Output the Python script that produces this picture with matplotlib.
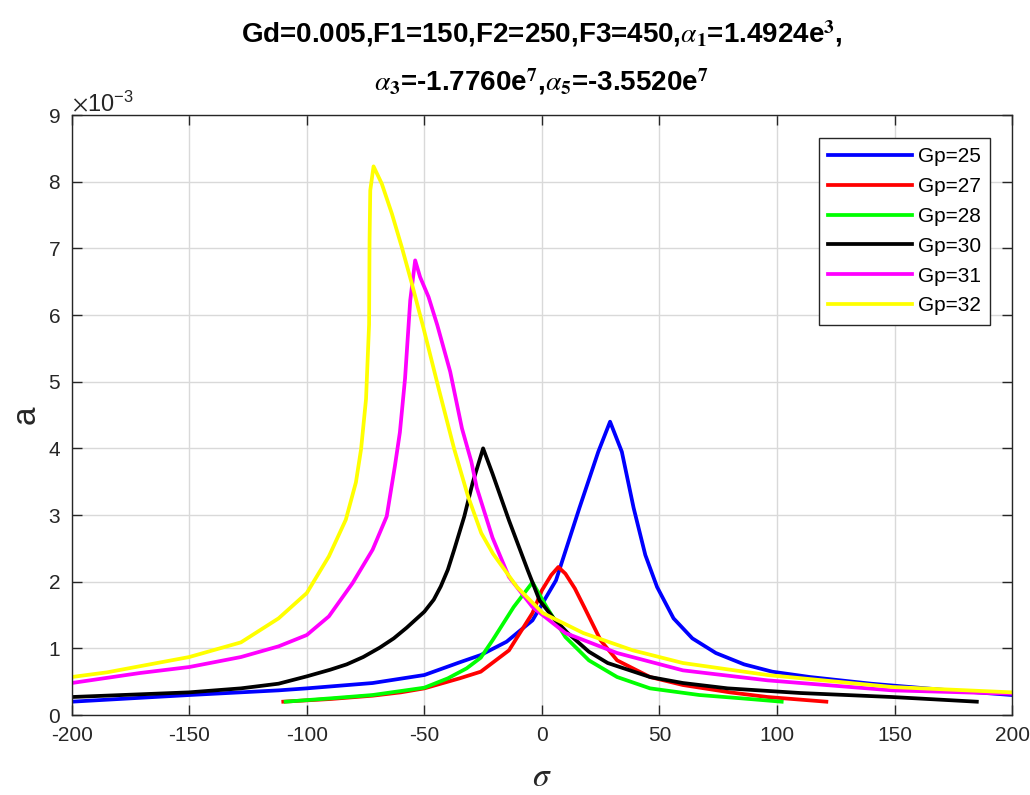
import matplotlib
matplotlib.use('Agg')
import matplotlib.pyplot as plt
import matplotlib.ticker as mticker

plt.rcParams['font.family'] = ['Liberation Sans', 'DejaVu Sans']
plt.rcParams['mathtext.fontset'] = 'stix'
plt.rcParams['axes.unicode_minus'] = False

# ── data (a in units of 1e-3) ─────────────────────────────────────
sig_25 = [-200, -150, -112, -100, -72, -50, -35, -26, -15, -4, 6, 16, 24, 29, 34, 39, 44, 49, 56, 64, 74, 86, 98, 114, 140, 170, 200]
a_25 = [0.20, 0.30, 0.37, 0.40, 0.48, 0.60, 0.79, 0.90, 1.10, 1.42, 2.02, 3.11, 3.95, 4.40, 3.95, 3.11, 2.40, 1.92, 1.45, 1.15, 0.93, 0.76, 0.65, 0.57, 0.47, 0.38, 0.30]

sig_27 = [-110, -90, -72, -60, -50, -35, -26, -14, -4, 0, 4, 7, 10, 14, 18, 25, 32, 46, 60, 80, 96, 121]
a_27 = [0.20, 0.24, 0.29, 0.34, 0.40, 0.55, 0.65, 0.97, 1.53, 1.87, 2.10, 2.22, 2.12, 1.90, 1.62, 1.12, 0.82, 0.57, 0.45, 0.34, 0.27, 0.20]

sig_28 = [-109, -90, -72, -60, -50, -40, -32, -26, -21, -12, -4, 2, 10, 20, 32, 46, 67, 85, 102]
a_28 = [0.20, 0.25, 0.30, 0.36, 0.41, 0.55, 0.70, 0.86, 1.12, 1.62, 1.99, 1.62, 1.17, 0.82, 0.57, 0.40, 0.30, 0.25, 0.20]

sig_30 = [-200, -150, -128, -112, -100, -90, -83, -76, -69, -63, -57.5, -50, -46, -43, -40, -37.3, -33, -29.4, -25, -21, -14, -6, -1, 5, 11, 20, 28, 46, 60, 79, 110, 149, 185]
a_30 = [0.27, 0.34, 0.40, 0.47, 0.58, 0.68, 0.76, 0.87, 1.01, 1.15, 1.31, 1.55, 1.73, 1.93, 2.18, 2.48, 2.98, 3.49, 4.00, 3.62, 2.92, 2.17, 1.72, 1.45, 1.23, 0.95, 0.78, 0.57, 0.48, 0.40, 0.33, 0.27, 0.20]

sig_31 = [-200, -171, -150, -128, -112, -100, -90.6, -80.5, -72, -66, -62.5, -60.4, -58.2, -56, -53.9, -51.8, -48.2, -44.5, -39, -34, -30, -27.7, -21, -14, -4, 10, 32, 60, 96, 149, 200]
a_31 = [0.48, 0.63, 0.72, 0.87, 1.03, 1.20, 1.48, 1.98, 2.48, 2.98, 3.74, 4.24, 5.05, 6.22, 6.82, 6.57, 6.27, 5.85, 5.15, 4.30, 3.80, 3.41, 2.66, 2.07, 1.62, 1.23, 0.93, 0.67, 0.52, 0.37, 0.32]

sig_32 = [-200, -185, -150, -128, -112, -100, -90.6, -83.4, -79.1, -76.9, -74.8, -73.5, -73.3, -73, -71.6, -68.1, -63.8, -59.6, -55.3, -50.4, -44, -37.3, -31.5, -25.8, -20.8, -10.6, 0.4, 17.6, 38.7, 60, 96, 149, 200]
a_32 = [0.57, 0.64, 0.87, 1.09, 1.45, 1.83, 2.38, 2.93, 3.49, 3.99, 4.74, 5.86, 7.12, 7.87, 8.23, 7.97, 7.52, 7.02, 6.47, 5.81, 4.91, 3.99, 3.29, 2.73, 2.42, 1.92, 1.53, 1.23, 0.97, 0.78, 0.60, 0.42, 0.34]

series = [
    (sig_25, a_25, '#0000ff', 'Gp=25'),
    (sig_27, a_27, '#ff0000', 'Gp=27'),
    (sig_28, a_28, '#00ff00', 'Gp=28'),
    (sig_30, a_30, '#000000', 'Gp=30'),
    (sig_31, a_31, '#ff00ff', 'Gp=31'),
    (sig_32, a_32, '#ffff00', 'Gp=32'),
]

fig = plt.figure(figsize=(10.3, 7.95), dpi=100)
ax = fig.add_axes([0.0696, 0.1006, 0.9130, 0.7547])

for s, a, c, lab in series:
    ax.plot(s, [v * 1e-3 for v in a], color=c, linewidth=2.7, label=lab,
            solid_joinstyle='round')

ax.set_xlim(-200, 200)
ax.set_ylim(0, 9e-3)
ax.set_xticks(range(-200, 201, 50))
ax.set_yticks([i * 1e-3 for i in range(10)])
fmt = mticker.ScalarFormatter(useMathText=True)
fmt.set_powerlimits((-3, -3))
ax.yaxis.set_major_formatter(fmt)
ax.yaxis.get_offset_text().set_fontsize(17)
ax.yaxis.get_offset_text().set_color('#404040')

ax.grid(True, color='#d9d9d9', linewidth=1.0)
ax.set_axisbelow(True)
ax.tick_params(direction='in', length=7, width=1.0, top=True, right=True,
               labelsize=15, colors='#262626', pad=8)
for sp in ax.spines.values():
    sp.set_color('#262626')
    sp.set_linewidth(1.0)

ax.set_xlabel(r'$\sigma$', fontsize=24, color='#262626', labelpad=12)
ax.set_ylabel('a', fontsize=24, color='#262626', labelpad=4)

leg = ax.legend(loc='upper right', bbox_to_anchor=(0.977, 0.962), fontsize=15,
                handlelength=4.0, handletextpad=0.3, labelspacing=0.52,
                borderpad=0.45, borderaxespad=0, fancybox=False, framealpha=1)
leg.get_frame().set_edgecolor('#262626')
leg.get_frame().set_linewidth(1.0)

fig.text(0.526, 0.958, r'Gd=0.005,F1=150,F2=250,F3=450,$\alpha_\mathbf{1}$=1.4924e$^\mathbf{3}$,',
         ha='center', va='center', fontsize=20, fontweight='bold', color='#000000')
fig.text(0.526, 0.897, r'$\alpha_\mathbf{3}$=-1.7760e$^\mathbf{7}$,$\alpha_\mathbf{5}$=-3.5520e$^\mathbf{7}$',
         ha='center', va='center', fontsize=20, fontweight='bold', color='#000000')

fig.savefig('out.png', dpi=100)
